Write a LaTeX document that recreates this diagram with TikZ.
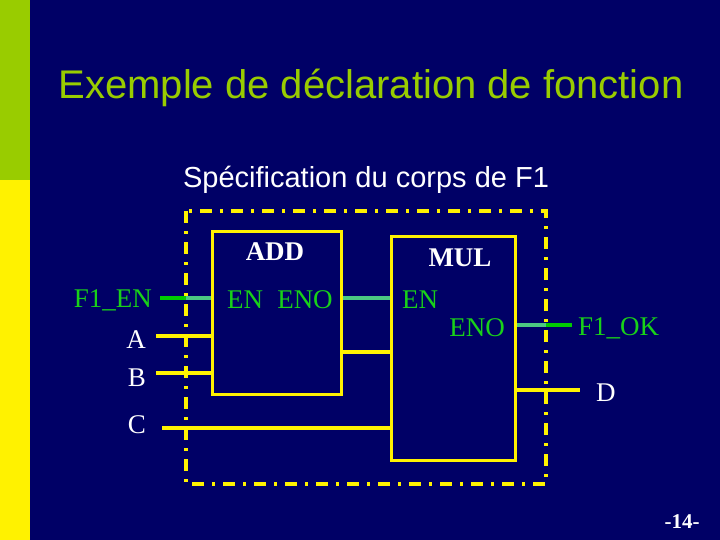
\documentclass[tikz,border=0pt]{standalone}
\usepackage{fontspec}
\setmainfont{Liberation Serif}
\newfontfamily\sansf{Liberation Sans}
\begin{document}
\begin{tikzpicture}[x=1pt,y=-1pt,
  bx/.style={draw=yellow,line width=3pt},
  wy/.style={yellow,line width=3.5pt},
  wt/.style={color=teal!60!green!70!white,line width=4pt},
  wg/.style={color=green!80!black,line width=4pt},
  lbl/.style={font=\fontsize{27}{30}\selectfont,inner sep=0pt},
  gl/.style={lbl,text=green!80!black!90!white}]
\definecolor{navy}{HTML}{000066}
\definecolor{olive}{HTML}{99CC00}
\fill[navy] (0,0) rectangle (720,540);
\fill[olive] (0,0) rectangle (30,180);
\fill[yellow] (0,180) rectangle (30,540);
\node[text=olive,font=\sansf\fontsize{40}{44}\selectfont] (title) at (371,88) {Exemple de déclaration de fonction};
\node[white,font=\sansf\fontsize{29}{32}\selectfont] (sub) at (366,180) {Spécification du corps de F1};
\draw[yellow,line width=4pt,dash pattern=on 12pt off 8pt on 3pt off 8pt] (186,211) rectangle (546,484);
\node[bx,minimum width=129pt,minimum height=163pt,anchor=north west] (add) at (211,230) {};
\node[bx,minimum width=124pt,minimum height=224pt,anchor=north west] (mul) at (390,235) {};
\node[lbl,white,font=\bfseries\fontsize{27}{30}\selectfont] (addt) at (275,252) {ADD};
\node[lbl,white,font=\bfseries\fontsize{27}{30}\selectfont] (mult) at (460,258) {MUL};
\node[gl] (en1) at (245,300) {EN};
\node[gl] (eno1) at (305,300) {ENO};
\node[gl] (en2) at (420,300) {EN};
\node[gl] (eno2) at (477,328) {ENO};
\node[gl,anchor=east] (f1en) at (152,300) {F1\_EN};
\node[lbl,white,anchor=east] (a) at (146,340) {A};
\node[lbl,white,anchor=east] (b) at (146,378) {B};
\node[lbl,white,anchor=east] (c) at (146,425) {C};
\node[gl,anchor=west] (f1ok) at (578,328) {F1\_OK};
\node[lbl,white,anchor=west] (d) at (596,393) {D};
\coordinate (pin) at (160,298);
\coordinate (bin) at (186,298);
\draw[wg] (pin) -- (bin);
\draw[wt] (bin) -- (add.west |- bin);
\draw[wt] (add.east |- bin) -- (mul.west |- bin);
\coordinate (po) at (546,325);
\draw[wt] (mul.east |- po) -- (po);
\coordinate (po2) at (572,325);
\draw[wg] (po) -- (po2);
\coordinate (ain) at (156,336);
\draw[wy] (ain) -- (add.west |- ain);
\coordinate (bin2) at (156,373);
\draw[wy] (bin2) -- (add.west |- bin2);
\coordinate (ao) at (340,352);
\draw[wy] (ao) -- (mul.west |- ao);
\coordinate (mo) at (580,390);
\draw[wy] (mul.east |- mo) -- (mo);
\coordinate (cin) at (162,428);
\draw[wy] (cin) -- (mul.west |- cin);
\node[white,font=\bfseries\fontsize{21}{24}\selectfont] (pg) at (682,522) {-14-};
\end{tikzpicture}
\end{document}
